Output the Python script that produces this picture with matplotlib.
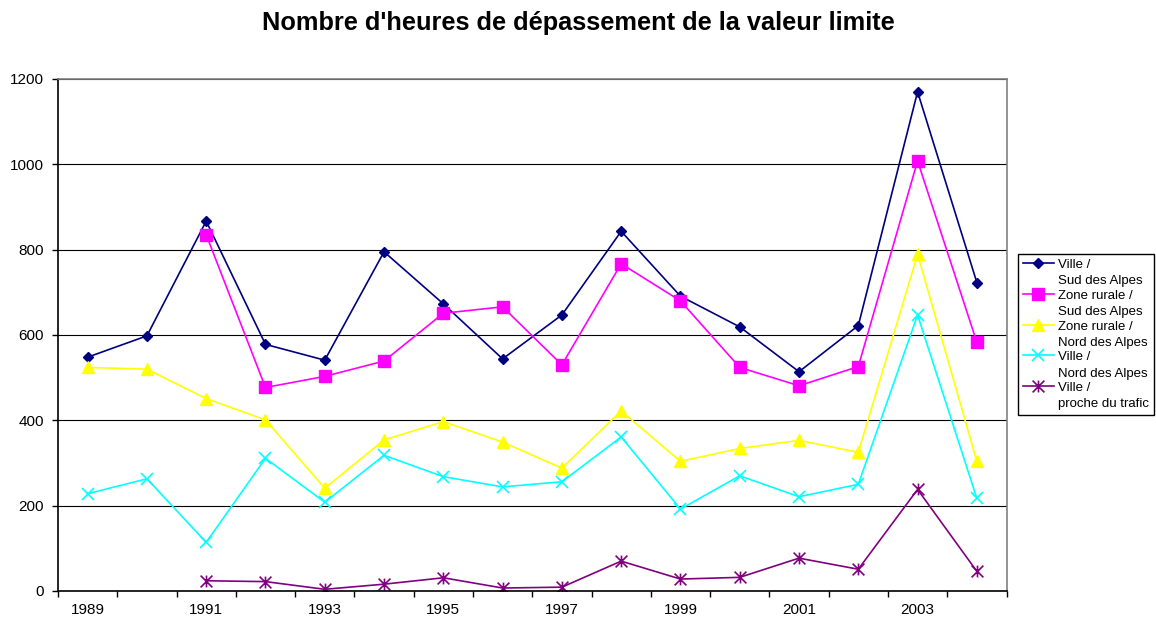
import numpy as np
import matplotlib
matplotlib.use("Agg")
import matplotlib.pyplot as plt
from matplotlib.path import Path
from matplotlib.legend_handler import HandlerLine2D

plt.rcParams['font.family'] = ['Liberation Sans', 'DejaVu Sans']

# Data
years = list(range(1989, 2005))
ville_sud = [548, 598, 867, 578, 541, 795, 673, 544, 647, 843, 691, 619, 514, 622, 1170, 723]
rurale_sud = [None, None, 835, 477, 503, 539, 651, 666, 530, 767, 680, 524, 481, 526, 1008, 583]
rurale_nord = [524, 520, 451, 401, 241, 354, 397, 349, 288, 422, 304, 334, 353, 325, 789, 304]
ville_nord = [228, 263, 114, 311, 208, 318, 268, 244, 256, 361, 192, 270, 221, 250, 647, 217]
ville_trafic = [None, None, 24, 22, 4, 16, 31, 7, 9, 70, 28, 32, 77, 51, 238, 46]

labels = ["Ville /\nSud des Alpes", "Zone rurale /\nSud des Alpes", "Zone rurale /\nNord des Alpes",
          "Ville /\nNord des Alpes", "Ville /\nproche du trafic"]
title = "Nombre d'heures de dépassement de la valeur limite"


def arr(v):
    return np.array([np.nan if x is None else x for x in v], dtype=float)


# asterisk marker: x plus vertical bar
asterisk = Path([(-1, -1), (1, 1), (-1, 1), (1, -1), (0, -1), (0, 1)],
                [Path.MOVETO, Path.LINETO, Path.MOVETO, Path.LINETO, Path.MOVETO, Path.LINETO])


class TopLineHandler(HandlerLine2D):
    # put the legend symbol next to the first line of the label
    def create_artists(self, legend, orig_handle, xdescent, ydescent, width, height, fontsize, trans):
        shift = 0.75 * fontsize
        return super().create_artists(legend, orig_handle, xdescent, ydescent, width,
                                      height + 2 * shift, fontsize, trans)


fig = plt.figure(figsize=(11.56, 6.19), dpi=100)
ax = fig.add_axes([58 / 1156, 1 - 591 / 619, (1006.5 - 58) / 1156, (591 - 79) / 619])

x = np.arange(len(years))
lw = 1.2
handles = []
handles += ax.plot(x, arr(ville_sud), color='#000080', lw=lw, marker='D', ms=5.6, label=labels[0])
handles += ax.plot(x, arr(rurale_sud), color='#FF00FF', lw=lw, marker='s', ms=8.5, label=labels[1])
handles += ax.plot(x, arr(rurale_nord), color='#FFFF00', lw=lw, marker='^', ms=9, label=labels[2])
handles += ax.plot(x, arr(ville_nord), color='#00FFFF', lw=lw, marker='x', ms=8.5, mew=1.2, label=labels[3])
handles += ax.plot(x, arr(ville_trafic), color='#800080', lw=lw, marker=asterisk, ms=8.5, mew=1.2,
                   mec='#800080', label=labels[4])

ax.set_xlim(-0.5, len(years) - 0.5)
ax.set_ylim(0, 1200)
ax.set_yticks(np.arange(0, 1201, 200))
ax.set_xticks(np.arange(-0.5, len(years), 1))
ax.set_xticklabels([])
ax.set_xticks(x[::2], minor=True)
ax.set_xticklabels([str(y) for y in years[::2]], minor=True)
ax.tick_params(axis='x', which='minor', length=0, pad=9, labelsize=11)
ax.tick_params(axis='x', which='major', direction='out', length=4, width=1)
ax.tick_params(axis='y', direction='out', length=4, width=1, labelsize=11, pad=6)

ax.yaxis.grid(True, color='black', lw=0.8)
ax.set_axisbelow(True)
for s in ['top', 'right']:
    ax.spines[s].set_color('#808080')
    ax.spines[s].set_linewidth(1.2)
for s in ['left', 'bottom']:
    ax.spines[s].set_linewidth(1.2)

fig.text(0.5, 1 - 23 / 619, title, ha='center', va='center', fontsize=18.3, fontweight='bold')

leg = fig.legend(handles=handles, labels=labels, loc='upper left',
                 bbox_to_anchor=(1018 / 1156, 1 - 254 / 619), fontsize=9.5,
                 frameon=True, fancybox=False, edgecolor='black', framealpha=1,
                 handlelength=2.4, handletextpad=0.3, labelspacing=0.22, borderpad=0.35,
                 borderaxespad=0, handler_map={h: TopLineHandler() for h in handles})
leg.get_frame().set_linewidth(1.0)
for t in leg.get_texts():
    t.set_linespacing(1.45)

fig.savefig('out.png', dpi=100)
